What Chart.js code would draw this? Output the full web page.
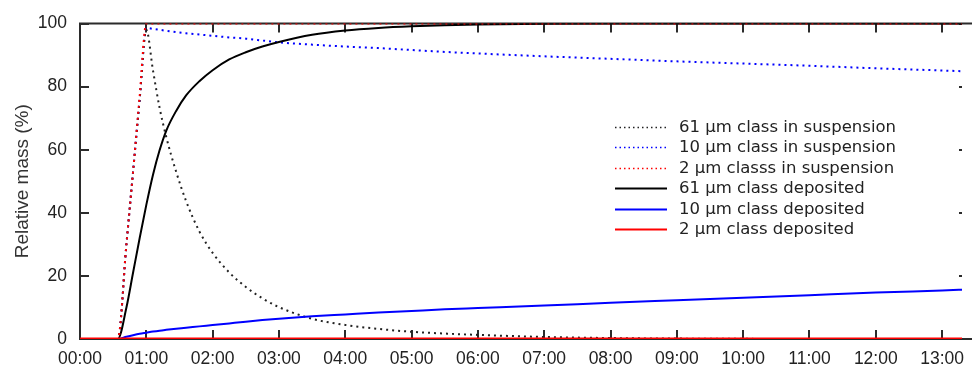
<!DOCTYPE html>
<html>
<head>
<meta charset="utf-8">
<script src="https://cdn.jsdelivr.net/npm/chart.js@4.4.1/dist/chart.umd.min.js"></script>
<style>
  html, body { margin: 0; padding: 0; background: #fff; }
  #wrap { width: 974px; height: 365px; position: relative; }
</style>
</head>
<body>
<div id="wrap"><canvas id="chart"></canvas></div>
<script>
// Time in hours after start
const hours = [0, 0.57, 0.7, 0.8, 0.9, 1.0, 1.1, 1.2, 1.3, 1.45, 1.6, 1.8, 2.0, 2.25, 2.5, 2.75, 3.0, 3.5, 4.0, 4.5, 5.0, 5.5, 6.0, 7.0, 8.0, 9.0, 10.0, 11.0, 12.0, 13.0, 13.4];

// Relative mass (%) per class
const susp61 = [0, 0, 30, 53, 76, 98, 85.2, 73.3, 64.1, 53, 43.7, 34.1, 27.3, 21.1, 16.5, 12.9, 10.1, 6.4, 4.45, 3.2, 2.3, 1.73, 1.3, 0.65, 0.3, 0.13, 0.05, 0, 0, 0, 0];
const susp10 = [0, 0, 30, 53, 76, 98.6, 98.3, 98.0, 97.7, 97.3, 96.9, 96.5, 96.1, 95.6, 95.2, 94.6, 94.0, 93.3, 92.7, 92.2, 91.6, 91.0, 90.5, 89.6, 88.8, 88.0, 87.3, 86.6, 85.8, 85.1, 84.8];
const susp2 = [0, 0, 30, 53, 77, 100, 100, 100, 100, 100, 100, 100, 100, 100, 100, 100, 100, 100, 100, 100, 100, 100, 100, 100, 100, 100, 100, 100, 100, 100, 100];
const dep61 = [0, 0, 10, 21, 32, 42.5, 52, 59.8, 66, 72.3, 77.2, 81.7, 85.2, 88.6, 90.9, 92.7, 94.15, 96.4, 97.75, 98.57, 99.1, 99.45, 99.65, 99.9, 100, 100, 100, 100, 100, 100, 100];
const dep10 = [0, 0, 0.7, 1.2, 1.65, 2.0, 2.35, 2.65, 2.9, 3.25, 3.55, 4.0, 4.4, 4.95, 5.5, 6.0, 6.45, 7.2, 7.8, 8.4, 8.9, 9.4, 9.8, 10.6, 11.5, 12.3, 13.1, 13.9, 14.7, 15.4, 15.7];
const dep2 = [0, 0, 0, 0, 0, 0, 0, 0, 0, 0, 0, 0, 0, 0, 0, 0, 0, 0, 0, 0, 0, 0, 0, 0, 0, 0, 0, 0, 0, 0, 0];

const labels = [
  "61 μm class in suspension",
  "10 μm class in suspension",
  "2 μm classs in suspension",
  "61 μm class deposited",
  "10 μm class deposited",
  "2 μm class deposited",
];

const toPoints = (vals) => vals.map((v, i) => ({ x: hours[i], y: v }));

const frameColor = "#2b2b2b";
const axisFont = { family: "'Liberation Sans', Arial, sans-serif", size: 17.5 };

// frame and inward ticks, drawn under the lines
const framePlugin = {
  id: "frame",
  beforeDatasetsDraw(chart) {
    const { ctx, chartArea: a, scales } = chart;
    ctx.save();
    ctx.strokeStyle = frameColor;
    ctx.lineWidth = 2;
    ctx.beginPath();
    ctx.moveTo(a.right + 10, a.top);
    ctx.lineTo(a.left, a.top);
    ctx.lineTo(a.left, a.bottom);
    ctx.lineTo(a.right + 10, a.bottom);
    ctx.stroke();
    ctx.beginPath();
    scales.x.ticks.forEach(t => {
      const px = Math.round(scales.x.getPixelForValue(t.value));
      ctx.moveTo(px, a.bottom);
      ctx.lineTo(px, a.bottom - 9);
      ctx.moveTo(px, a.top);
      ctx.lineTo(px, a.top + 9);
    });
    scales.y.ticks.forEach(t => {
      const py = Math.round(scales.y.getPixelForValue(t.value));
      ctx.moveTo(a.left, py);
      ctx.lineTo(a.left + 9, py);
      ctx.moveTo(a.right, py);
      ctx.lineTo(a.right - 3, py);
    });
    ctx.stroke();
    ctx.restore();
  },
  afterDraw(chart) {
    // legend inside the plot
    const { ctx } = chart;
    const x0 = 615, x1 = 667, tx = 679, y0 = 127, dy = 20.4;
    ctx.save();
    ctx.font = "16.5px 'DejaVu Sans', Verdana, sans-serif";
    ctx.textBaseline = "middle";
    chart.data.datasets.forEach((ds, i) => {
      const y = Math.round(y0 + i * dy) + 0.5;
      ctx.strokeStyle = ds.borderColor;
      ctx.lineWidth = ds.borderDash.length ? 1.5 : 2;
      ctx.setLineDash(ds.borderDash.length ? [1.5, 3] : []);
      ctx.beginPath();
      ctx.moveTo(x0, y);
      ctx.lineTo(x1, y);
      ctx.stroke();
      ctx.setLineDash([]);
      ctx.fillStyle = "#222";
      ctx.fillText(ds.label, tx, y);
    });
    ctx.restore();
  },
};

const dotted = [2, 4];
const lineStyle = { pointRadius: 0, fill: false, cubicInterpolationMode: "monotone", borderCapStyle: "butt" };

new Chart(document.getElementById("chart"), {
  type: "line",
  plugins: [framePlugin],
  data: {
    datasets: [
      { ...lineStyle, label: labels[0], data: toPoints(susp61), borderColor: "#222222", borderWidth: 2, borderDash: dotted, order: 4 },
      { ...lineStyle, label: labels[1], data: toPoints(susp10), borderColor: "#0000ff", borderWidth: 2, borderDash: dotted, order: 5 },
      { ...lineStyle, label: labels[2], data: toPoints(susp2), borderColor: "#ff0000", borderWidth: 2, borderDash: dotted, order: 1 },
      { ...lineStyle, label: labels[3], data: toPoints(dep61), borderColor: "#000000", borderWidth: 2, borderDash: [], order: 3 },
      { ...lineStyle, label: labels[4], data: toPoints(dep10), borderColor: "#0000ff", borderWidth: 2, borderDash: [], order: 2 },
      { ...lineStyle, label: labels[5], data: toPoints(dep2), borderColor: "#ff0000", borderWidth: 3, borderDash: [], order: 0 },
    ],
  },
  options: {
    responsive: true,
    maintainAspectRatio: false,
    animation: false,
    layout: { padding: { top: 22, right: 0, left: 0, bottom: 0 } },
    plugins: { legend: { display: false }, tooltip: { enabled: false } },
    scales: {
      x: {
        type: "linear",
        min: 0,
        max: 13.3,
        grid: { display: false, drawTicks: false },
        border: { display: false },
        ticks: {
          stepSize: 1,
          includeBounds: false,
          autoSkip: false,
          maxRotation: 0,
          padding: 10,
          color: "#222",
          font: axisFont,
          callback: (v) => String(v).padStart(2, "0") + ":00",
        },
        afterFit: (s) => { s.height = 26; },
      },
      y: {
        min: 0,
        max: 100,
        grid: { display: false, drawTicks: false },
        border: { display: false },
        ticks: {
          stepSize: 20,
          padding: 13,
          color: "#222",
          font: axisFont,
        },
        title: {
          display: true,
          text: "Relative mass (%)",
          color: "#333",
          padding: { top: 11, bottom: 0 },
          font: { family: "'Liberation Sans', Arial, sans-serif", size: 19 },
        },
        afterFit: (s) => { s.width = 80; },
      },
    },
  },
});
</script>
</body>
</html>
